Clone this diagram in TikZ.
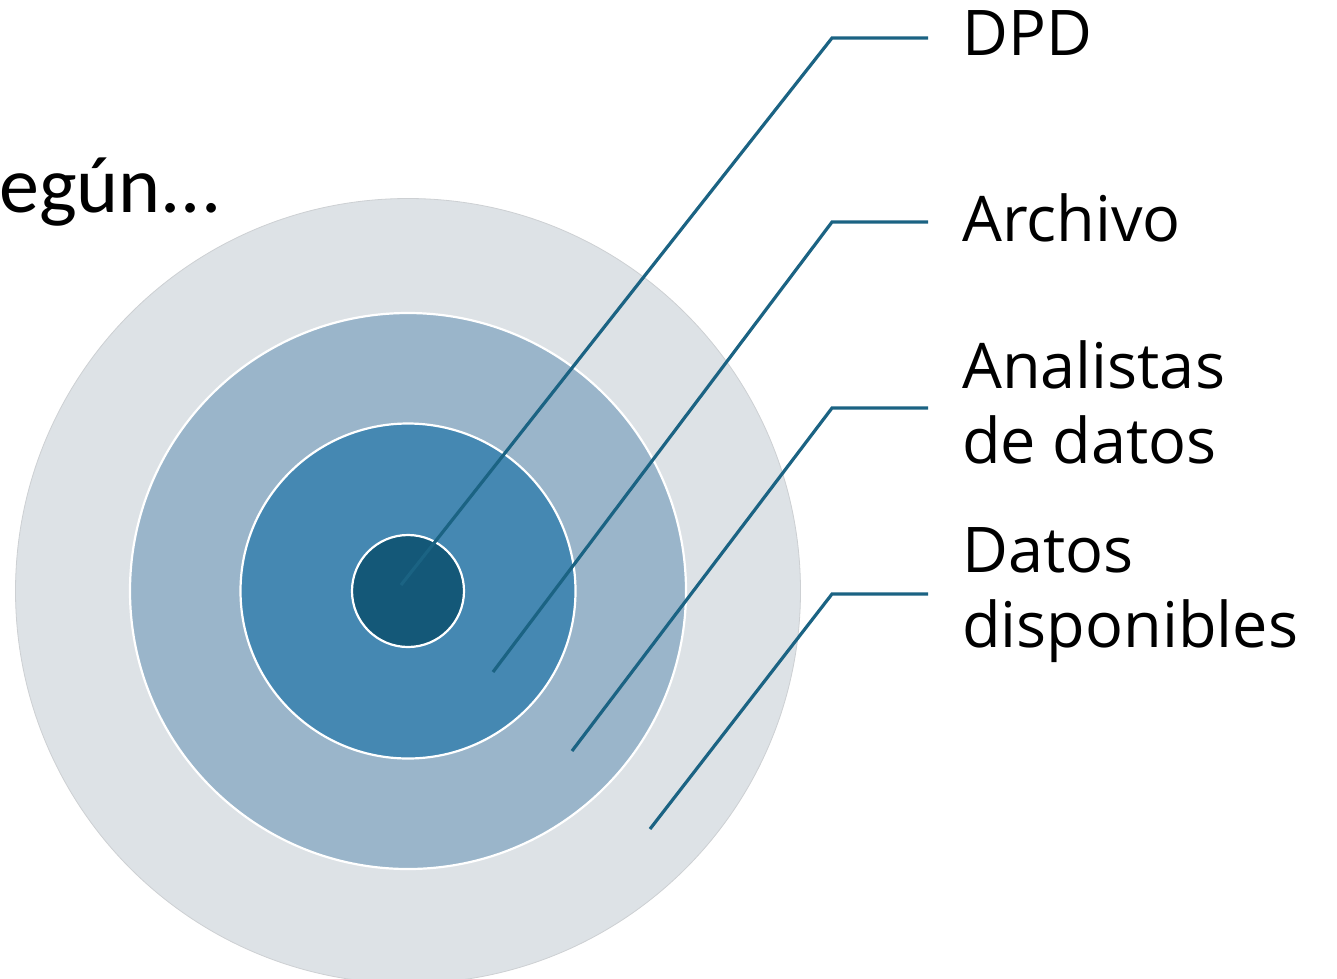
\documentclass[tikz,border=0pt]{standalone}
\usepackage{fontspec}
\setmainfont{Open Sans}
\newfontfamily\carlitofont{Carlito}
\begin{document}
\begin{tikzpicture}[x=1pt,y=-1pt,
  ringA/.style={fill=cOuter, draw=cEdge, line width=0.8pt},
  ringB/.style={fill=cSecond, draw=white, line width=2.2pt},
  ringC/.style={fill=cThird, draw=white, line width=2.2pt},
  ringD/.style={fill=cInner, draw=white, line width=2.2pt},
  leader/.style={draw=cLine, line width=3.2pt, line join=miter},
  lbl/.style={anchor=base west, inner sep=0pt, align=left, font=\fontsize{63}{75}\selectfont},
]
\definecolor{cOuter}{RGB}{221,226,230}
\definecolor{cEdge}{RGB}{205,208,211}
\definecolor{cSecond}{RGB}{154,181,202}
\definecolor{cThird}{RGB}{69,136,178}
\definecolor{cInner}{RGB}{20,88,120}
\definecolor{cLine}{RGB}{27,99,131}
\useasboundingbox (0,0) rectangle (1337,978);
\begin{scope}
\clip (0,0) rectangle (1337,978);
\node[circle, ringA, minimum size=785pt, inner sep=0pt] (outer) at (408,591) {};
\end{scope}
\node[circle, ringB, minimum size=556pt, inner sep=0pt] (second) at (408,591) {};
\node[circle, ringC, minimum size=335pt, inner sep=0pt] (third) at (408,591) {};
\node[circle, ringD, minimum size=112pt, inner sep=0pt] (inner) at (408,591) {};

\node[anchor=base west, inner sep=0pt, font=\carlitofont\fontsize{80}{90}\selectfont] (segun) at (-1,212) {egún...};

\node[lbl] (dpd) at (962,55) {DPD};
\node[lbl] (arch) at (962,241) {Archivo};
\node[lbl] (anal) at (962,463) {Analistas\\de datos};
\node[lbl] (datos) at (962,647) {Datos\\disponibles};

\coordinate (e1) at (401,585);
\coordinate (k1) at (832,38);
\coordinate (t1) at (928,38);
\coordinate (e2) at (493,672);
\coordinate (k2) at (832,222);
\coordinate (t2) at (928,222);
\coordinate (e3) at (572,751);
\coordinate (k3) at (832,408);
\coordinate (t3) at (928,408);
\coordinate (e4) at (650,829);
\coordinate (k4) at (832,594);
\coordinate (t4) at (928,594);

\draw[leader] (e1) -- (k1) -- (t1);
\draw[leader] (e2) -- (k2) -- (t2);
\draw[leader] (e3) -- (k3) -- (t3);
\draw[leader] (e4) -- (k4) -- (t4);
\end{tikzpicture}
\end{document}
